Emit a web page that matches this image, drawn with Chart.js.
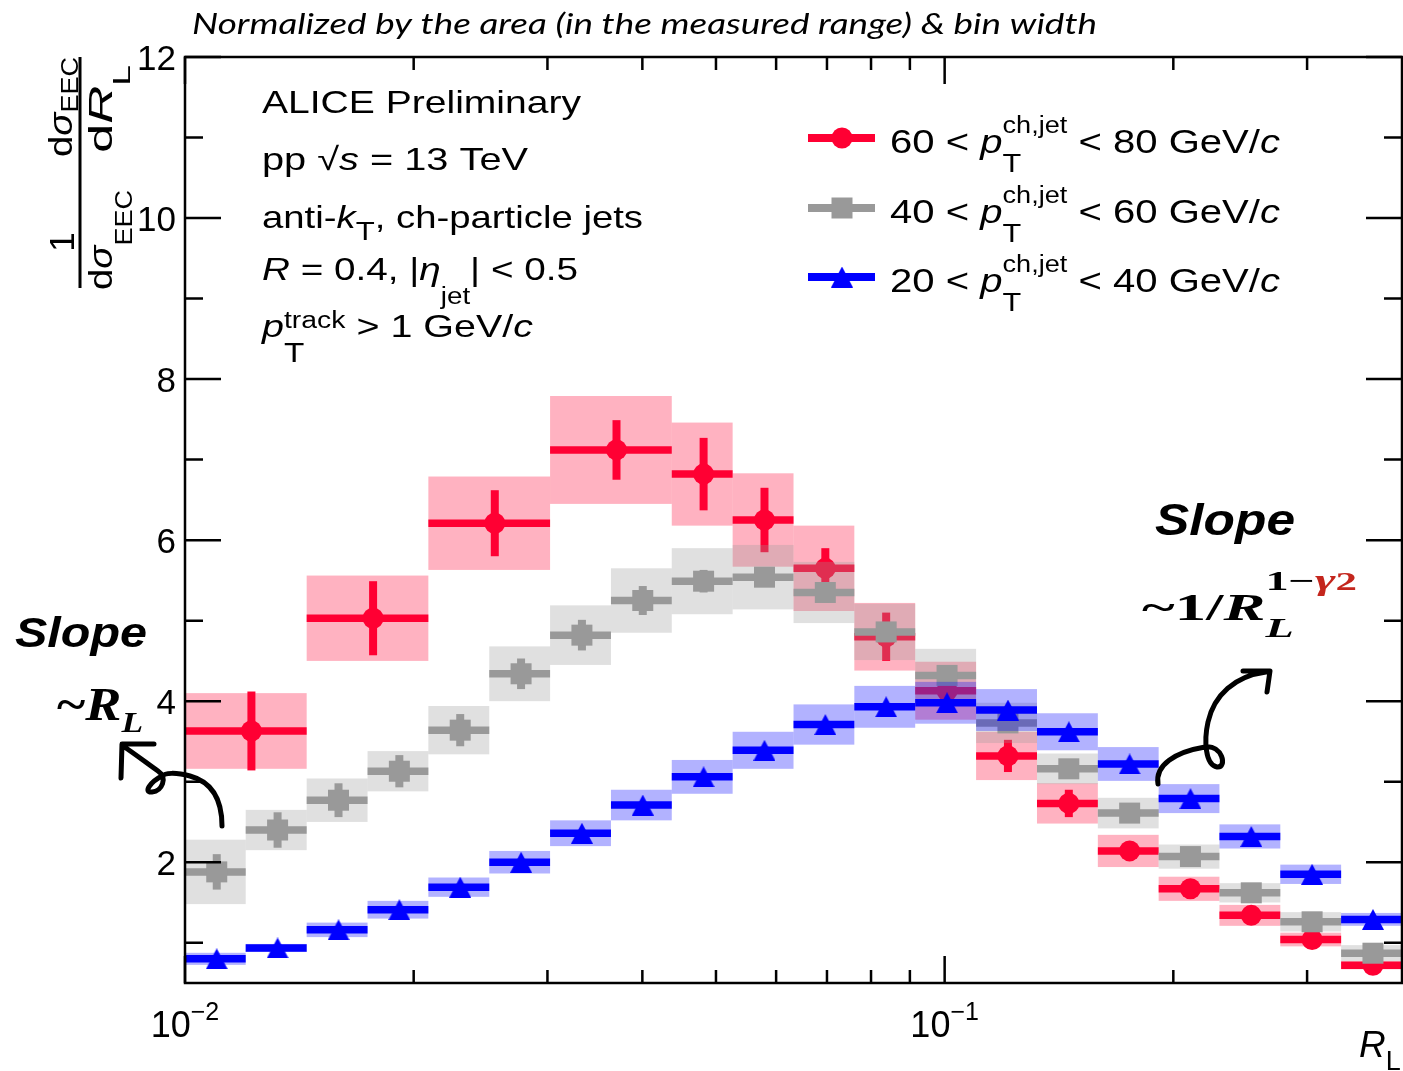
<!DOCTYPE html>
<html>
<head>
<meta charset="utf-8">
<title>EEC vs R_L</title>
<script src="https://cdn.jsdelivr.net/npm/chart.js@4.4.1/dist/chart.umd.min.js"></script>
<style>
  html, body { margin: 0; padding: 0; background: #ffffff; }
  canvas { display: block; }
</style>
</head>
<body>
<canvas id="eec_chart" width="1403" height="1071"></canvas>
<script>
// R_L bin edges, 20 log bins between 0.01 and 0.4
const binEdges = [0.01, 0.01202, 0.01446, 0.01739, 0.02091, 0.02515, 0.03024, 0.03637, 0.04373, 0.05259,
  0.06325, 0.07605, 0.09146, 0.1100, 0.1323, 0.1591, 0.1913, 0.2300, 0.2766, 0.3326, 0.4];
// 60-80 GeV/c uses merged bins below R_L ~ 0.044
const redEdges = [0.01, 0.01446, 0.02091, 0.03024, 0.04373, 0.05259,
  0.06325, 0.07605, 0.09146, 0.1100, 0.1323, 0.1591, 0.1913, 0.2300, 0.2766, 0.3326, 0.4];

const redValues = [3.63, 5.03, 6.21, 7.12, 6.82, 6.25, 5.65, 4.80, 4.13, 3.32, 2.73, 2.14, 1.67, 1.34, 1.04, 0.72];
const redStat   = [0.49, 0.46, 0.41, 0.37, 0.45, 0.40, 0.25, 0.30, 0.12, 0.20, 0.17, 0.10, 0.08, 0.06, 0.05, 0.04];
const redSys    = [0.47, 0.53, 0.58, 0.67, 0.64, 0.58, 0.53, 0.42, 0.36, 0.30, 0.25, 0.20, 0.15, 0.13, 0.085, 0.05];

const grayValues = [1.88, 2.40, 2.77, 3.13, 3.64, 4.34, 4.82, 5.25, 5.49, 5.54, 5.35, 4.86, 4.32, 3.73, 3.16, 2.61, 2.07, 1.62, 1.26, 0.87];
const grayStat   = [0.22, 0.22, 0.21, 0.20, 0.20, 0.19, 0.19, 0.18, 0.14, 0.12, 0.12, 0.11, 0.10, 0.09, 0.08, 0.07, 0.06, 0.05, 0.05, 0.04];
const graySys    = [0.40, 0.25, 0.27, 0.25, 0.30, 0.34, 0.37, 0.40, 0.41, 0.40, 0.38, 0.35, 0.33, 0.25, 0.19, 0.19, 0.15, 0.12, 0.12, 0.10];

const blueValues = [0.80, 0.935, 1.16, 1.41, 1.69, 2.00, 2.36, 2.71, 3.06, 3.39, 3.71, 3.93, 3.98, 3.89, 3.62, 3.22, 2.79, 2.32, 1.85, 1.29];
const blueStat   = [0.02, 0.02, 0.02, 0.02, 0.02, 0.03, 0.03, 0.03, 0.03, 0.03, 0.03, 0.03, 0.03, 0.03, 0.03, 0.03, 0.03, 0.03, 0.03, 0.03];
const blueSys    = [0.075, 0.05, 0.09, 0.11, 0.12, 0.14, 0.16, 0.19, 0.21, 0.23, 0.25, 0.26, 0.26, 0.26, 0.23, 0.21, 0.18, 0.15, 0.12, 0.08];

const ptLow  = ['60', '40', '20'];
const ptHigh = ['80', '60', '40'];

const xMajorTicks = [0.01, 0.1];
const xMajorExp = ['\u22122', '\u22121'];
const xMinorTicks = [0.02, 0.03, 0.04, 0.05, 0.06, 0.07, 0.08, 0.09, 0.2, 0.3];
const yMajorTicks = [2, 4, 6, 8, 10, 12];
const yMinorTicks = [1, 3, 5, 7, 9, 11];

const SANS = "'Liberation Sans', Arial, Helvetica, sans-serif";
const SERIF = "'Liberation Serif', 'Times New Roman', serif";

const RED = 'rgb(255,0,51)';
const GRAY = 'rgb(153,153,153)';
const BLUE = 'rgb(0,0,255)';

function makeTriangle(color, w, h) {
    const c = document.createElement('canvas');
    c.width = w;
    c.height = h;
    const g = c.getContext('2d');
    g.fillStyle = color;
    g.beginPath();
    g.moveTo(w / 2, 0);
    g.lineTo(w, h);
    g.lineTo(0, h);
    g.closePath();
    g.fill();
    return c;
}
const blueTriangle = makeTriangle(BLUE, 22, 21);

const series = [
    { edges: redEdges, values: redValues, stat: redStat, sys: redSys, color: RED, box: 'rgba(255,0,51,0.3)', marker: 'circle' },
    { edges: binEdges, values: grayValues, stat: grayStat, sys: graySys, color: GRAY, box: 'rgba(153,153,153,0.3)', marker: 'square' },
    { edges: binEdges, values: blueValues, stat: blueStat, sys: blueSys, color: BLUE, box: 'rgba(0,0,255,0.3)', marker: 'triangle' }
];

function centers(edges, values) {
    return values.map((v, i) => ({ x: (edges[i] + edges[i + 1]) / 2, y: v }));
}

// ---- rich text helpers (sub / superscripts) ----
function fontOf(s, size, fam) {
    return (s.i ? 'italic ' : '') + (s.b ? 'bold ' : '') + (s.sz || size) + 'px ' + (s.f || fam);
}

function runSegs(ctx, segs, size, fam, draw, x0, y0) {
    let cx = x0;
    segs.forEach(s => {
        if (s.up || s.dn) {
            const wu = s.up ? runSegs(ctx, s.up, size, fam, draw, cx, y0 + s.dyu) - cx : 0;
            const wd = s.dn ? runSegs(ctx, s.dn, size, fam, draw, cx, y0 + s.dyd) - cx : 0;
            cx += Math.max(wu, wd);
            return;
        }
        ctx.font = fontOf(s, size, fam);
        if (draw) {
            ctx.fillStyle = s.c || '#000';
            ctx.fillText(s.t, cx, y0 + (s.dy || 0));
        }
        cx += ctx.measureText(s.t).width;
    });
    return cx;
}

function drawRich(ctx, segs, o) {
    const fam = o.fam || SANS;
    ctx.save();
    ctx.textAlign = 'left';
    ctx.textBaseline = 'alphabetic';
    const natural = runSegs(ctx, segs, o.size, fam, false, 0, 0);
    const sx = o.width ? o.width / natural : 1;
    let left = o.x;
    if (o.align === 'center') left -= natural * sx / 2;
    if (o.align === 'right') left -= natural * sx;
    ctx.translate(left, o.y);
    ctx.scale(sx, 1);
    runSegs(ctx, segs, o.size, fam, true, 0, 0);
    ctx.restore();
}

// ---- systematic boxes + bin-width / stat bars, drawn right before each marker dataset ----
const errorPlugin = {
    id: 'errorBoxes',
    beforeDatasetDraw(chart, args) {
        const s = series[args.index];
        const ctx = chart.ctx;
        const a = chart.chartArea;
        const xs = chart.scales.x, ys = chart.scales.y;
        ctx.save();
        ctx.beginPath();
        ctx.rect(a.left, a.top, a.right - a.left, a.bottom - a.top);
        ctx.clip();

        ctx.fillStyle = s.box;
        s.values.forEach((v, i) => {
            const x0 = xs.getPixelForValue(s.edges[i]);
            const x1 = xs.getPixelForValue(s.edges[i + 1]);
            const yt = ys.getPixelForValue(v + s.sys[i]);
            const yb = ys.getPixelForValue(v - s.sys[i]);
            ctx.fillRect(x0, yt, x1 - x0, yb - yt);
        });

        ctx.strokeStyle = s.color;
        ctx.lineCap = 'butt';
        s.values.forEach((v, i) => {
            const x0 = xs.getPixelForValue(s.edges[i]);
            const x1 = xs.getPixelForValue(s.edges[i + 1]);
            const xc = xs.getPixelForValue((s.edges[i] + s.edges[i + 1]) / 2);
            const yc = ys.getPixelForValue(v);
            ctx.lineWidth = 7.5;
            ctx.beginPath();
            ctx.moveTo(x0, yc);
            ctx.lineTo(x1, yc);
            ctx.stroke();
            ctx.lineWidth = 8;
            ctx.beginPath();
            ctx.moveTo(xc, ys.getPixelForValue(v + s.stat[i]));
            ctx.lineTo(xc, ys.getPixelForValue(v - s.stat[i]));
            ctx.stroke();
        });
        ctx.restore();
    },

    afterDraw(chart) {
        const ctx = chart.ctx;
        const a = chart.chartArea;
        const xs = chart.scales.x, ys = chart.scales.y;

        // frame and inward ticks
        ctx.save();
        ctx.strokeStyle = '#000';
        ctx.lineWidth = 2.5;
        ctx.strokeRect(a.left, a.top, a.right - a.left, a.bottom - a.top);
        ctx.beginPath();
        const xTick = (v, len) => {
            const px = xs.getPixelForValue(v);
            ctx.moveTo(px, a.bottom); ctx.lineTo(px, a.bottom - len);
            ctx.moveTo(px, a.top); ctx.lineTo(px, a.top + len);
        };
        const yTick = (v, len) => {
            const py = ys.getPixelForValue(v);
            ctx.moveTo(a.left, py); ctx.lineTo(a.left + len, py);
            ctx.moveTo(a.right, py); ctx.lineTo(a.right - len, py);
        };
        xMajorTicks.forEach(v => xTick(v, 27));
        xMinorTicks.forEach(v => xTick(v, 13));
        yMajorTicks.forEach(v => yTick(v, 36));
        yMinorTicks.forEach(v => yTick(v, 18));
        ctx.stroke();
        ctx.restore();

        // tick labels
        yMajorTicks.forEach(v => {
            drawRich(ctx, [{ t: String(v) }], { x: a.left - 9, y: ys.getPixelForValue(v) + 13, size: 35, align: 'right' });
        });
        xMajorTicks.forEach((v, i) => {
            drawRich(ctx, [{ t: '10' }, { t: xMajorExp[i], sz: 25, dy: -17 }],
                { x: xs.getPixelForValue(v), y: a.bottom + 54, size: 36, align: 'center' });
        });

        // x axis title
        drawRich(ctx, [{ t: 'R', i: 1 }, { t: 'L', sz: 27, dy: 13 }], { x: 1359, y: 1057, size: 37 });

        // y axis title (rotated fraction)
        ctx.save();
        ctx.translate(80, 290);
        ctx.rotate(-Math.PI / 2);
        ctx.fillStyle = '#000';
        ctx.fillRect(2, -1.5, 231, 3);
        drawRich(ctx, [{ t: '1' }], { x: 48, y: -6, size: 35, align: 'center' });
        drawRich(ctx, [{ t: 'd' }, { t: '\u03c3', i: 1 }, { t: 'EEC', sz: 24, dy: 20 }], { x: 0, y: 32, size: 34, width: 100 });
        drawRich(ctx, [{ t: 'd' }, { t: '\u03c3', i: 1 }, { t: 'EEC', sz: 24, dy: 6 }], { x: 133, y: -8, size: 34, width: 100 });
        drawRich(ctx, [{ t: 'd' }, { t: 'R', i: 1 }, { t: 'L', sz: 24, dy: 18 }], { x: 137, y: 32, size: 34, width: 88 });
        ctx.restore();

        // title above the frame
        drawRich(ctx, [{ t: 'Normalized by the area (in the measured range) & bin width', i: 1 }],
            { x: 192, y: 34, size: 28, fam: "Lato, 'Open Sans', sans-serif", width: 905 });

        // info block
        const info = [
            { segs: [{ t: 'ALICE Preliminary' }], y: 113, w: 319 },
            { segs: [{ t: 'pp ' }, { t: '\u221a' }, { t: 's', i: 1 }, { t: ' = 13 TeV' }], y: 170, w: 266 },
            { segs: [{ t: 'anti-' }, { t: 'k', i: 1 }, { t: 'T', sz: 26, dy: 12 }, { t: ', ch-particle jets' }], y: 228, w: 381 },
            { segs: [{ t: 'R', i: 1 }, { t: ' = 0.4, |' }, { t: '\u03b7', i: 1 }, { t: 'jet', sz: 23, dy: 24 }, { t: '| < 0.5' }], y: 280, w: 316 },
            { segs: [{ t: 'p', i: 1 }, { up: [{ t: 'track', sz: 23 }], dn: [{ t: 'T', sz: 27 }], dyu: -9, dyd: 25 },
                     { t: ' > 1 GeV/' }, { t: 'c', i: 1 }], y: 337, w: 271 }
        ];
        info.forEach(l => drawRich(ctx, l.segs, { x: 262, y: l.y, size: 32, width: l.w }));

        // legend
        const rows = [138, 208, 277];
        series.forEach((s, k) => {
            const yy = rows[k];
            ctx.save();
            ctx.strokeStyle = s.color;
            ctx.lineWidth = 8;
            ctx.beginPath();
            ctx.moveTo(808, yy);
            ctx.lineTo(875, yy);
            ctx.stroke();
            ctx.fillStyle = s.color;
            if (s.marker === 'circle') {
                ctx.beginPath();
                ctx.arc(842, yy, 10.5, 0, Math.PI * 2);
                ctx.fill();
            } else if (s.marker === 'square') {
                ctx.fillRect(831.5, yy - 10.5, 21, 21);
            } else {
                ctx.drawImage(blueTriangle, 842 - 11, yy - 10.5);
            }
            ctx.restore();
            drawRich(ctx, [{ t: ptLow[k] + ' < ' }, { t: 'p', i: 1 },
                { up: [{ t: 'ch,jet', sz: 23 }], dn: [{ t: 'T', sz: 26 }], dyu: -20, dyd: 19 },
                { t: ' < ' + ptHigh[k] + ' GeV/' }, { t: 'c', i: 1 }],
                { x: 890, y: yy + 15, size: 34, width: 390 });
        });

        // slope annotations
        drawRich(ctx, [{ t: 'Slope', b: 1, i: 1 }], { x: 15, y: 647, size: 42, width: 132 });
        drawRich(ctx, [{ t: '~', b: 1 }, { t: 'R', b: 1, i: 1 }, { t: 'L', b: 1, i: 1, sz: 30, dy: 12 }],
            { x: 57, y: 720, size: 46, fam: SERIF, width: 86 });
        drawRich(ctx, [{ t: 'Slope', b: 1, i: 1 }], { x: 1155, y: 535, size: 44, width: 140 });
        drawRich(ctx, [{ t: '~1/', b: 1 }, { t: 'R', b: 1, i: 1 },
            { up: [{ t: '1\u2212', b: 1, sz: 28 }, { t: '\u03b3', b: 1, i: 1, sz: 30, c: '#c4261d' }, { t: '2', b: 1, sz: 26, c: '#c4261d' }],
              dn: [{ t: 'L', b: 1, i: 1, sz: 28 }], dyu: -30, dyd: 17 }],
            { x: 1142, y: 620, size: 38, fam: SERIF, width: 215 });

        // hand-drawn arrows
        ctx.save();
        ctx.strokeStyle = '#000';
        ctx.lineWidth = 5;
        ctx.lineCap = 'round';
        ctx.lineJoin = 'round';
        ctx.beginPath();
        ctx.moveTo(222, 826);
        ctx.bezierCurveTo(222, 800, 212, 782, 190, 776);
        ctx.bezierCurveTo(175, 772, 165, 773, 162, 776);
        ctx.bezierCurveTo(150, 782, 143, 793, 152, 792);
        ctx.bezierCurveTo(162, 791, 168, 778, 158, 771);
        ctx.bezierCurveTo(148, 764, 135, 754, 123, 746);
        ctx.moveTo(121, 778);
        ctx.lineTo(122, 744);
        ctx.lineTo(154, 744);
        ctx.moveTo(1158, 784);
        ctx.bezierCurveTo(1155, 765, 1175, 752, 1205, 747);
        ctx.bezierCurveTo(1222, 744, 1228, 768, 1217, 767);
        ctx.bezierCurveTo(1205, 765, 1204, 740, 1208, 722);
        ctx.bezierCurveTo(1214, 695, 1235, 676, 1266, 672);
        ctx.moveTo(1243, 671);
        ctx.lineTo(1270, 671);
        ctx.lineTo(1267, 692);
        ctx.stroke();
        ctx.restore();
    }
};

const eecChart = new Chart(document.getElementById('eec_chart'), {
    type: 'scatter',
    data: {
        datasets: [
            {
                label: '60 < pT < 80 GeV/c',
                data: centers(redEdges, redValues),
                pointStyle: 'circle',
                pointRadius: 10.5,
                backgroundColor: RED,
                borderWidth: 0,
                order: 3
            },
            {
                label: '40 < pT < 60 GeV/c',
                data: centers(binEdges, grayValues),
                pointStyle: 'rect',
                pointRadius: 14.85,
                backgroundColor: GRAY,
                borderWidth: 0,
                order: 2
            },
            {
                label: '20 < pT < 40 GeV/c',
                data: centers(binEdges, blueValues),
                pointStyle: blueTriangle,
                pointRadius: 11,
                backgroundColor: BLUE,
                borderWidth: 0,
                order: 1
            }
        ]
    },
    options: {
        responsive: false,
        animation: false,
        events: [],
        layout: { autoPadding: false, padding: { left: 185, right: 1, top: 57, bottom: 88 } },
        scales: {
            x: { type: 'logarithmic', min: 0.01, max: 0.4, display: false },
            y: { type: 'linear', min: 0.5, max: 12, display: false }
        },
        plugins: {
            legend: { display: false },
            tooltip: { enabled: false }
        }
    },
    plugins: [errorPlugin]
});
</script>
</body>
</html>
